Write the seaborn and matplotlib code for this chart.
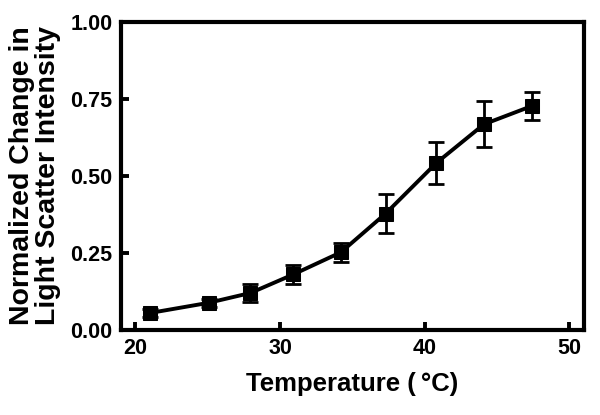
import matplotlib
matplotlib.use("Agg")
import matplotlib.pyplot as plt
import seaborn as sns
import pandas as pd

temperature = [21.0, 25.05, 27.95, 30.9, 34.2, 37.3, 40.8, 44.1, 47.4]
scatter = [0.055, 0.088, 0.12, 0.18, 0.252, 0.378, 0.542, 0.668, 0.727]
err = [0.012, 0.012, 0.03, 0.032, 0.03, 0.062, 0.067, 0.075, 0.045]
x_ticks = [20, 30, 40, 50]
y_ticks = [0.00, 0.25, 0.50, 0.75, 1.00]

df = pd.DataFrame({"T": temperature, "S": scatter})

sns.set_style("ticks", {"axes.edgecolor": "black", "text.color": "black",
                        "axes.labelcolor": "black", "xtick.color": "black",
                        "ytick.color": "black"})
plt.rcParams['font.family'] = ['Liberation Sans', 'DejaVu Sans']
plt.rcParams['font.weight'] = 'bold'

fig = plt.figure(figsize=(6.0, 4.15), dpi=100)
ax = fig.add_axes([0.2017, 0.205, 0.7713, 0.742])

sns.lineplot(data=df, x="T", y="S", ax=ax, color="black", linewidth=2.8,
             marker="s", markersize=9.5, markeredgecolor="black")
ax.errorbar(temperature, scatter, yerr=err, fmt="none", ecolor="black",
            elinewidth=2.0, capsize=6, capthick=2.0)

ax.set_xlim(19.0, 51.0)
ax.set_ylim(0, 1.0)
ax.set_xticks(x_ticks)
ax.set_yticks(y_ticks)
ax.set_yticklabels([f"{v:.2f}" for v in y_ticks])
ax.tick_params(direction="in", length=6, width=2.8, labelsize=15.5, pad=6,
               color="black", labelcolor="black")
for lab in ax.get_xticklabels() + ax.get_yticklabels():
    lab.set_fontweight("bold")
for s in ax.spines.values():
    s.set_linewidth(3.0)
    s.set_color("black")
    s.set_visible(True)

ax.set_xlabel("Temperature (\u2009°C)", fontsize=18.5, fontweight="bold",
              labelpad=9, color="black")
ax.set_ylabel("Normalized Change in\nLight Scatter Intensity", fontsize=20.5,
              fontweight="bold", labelpad=7, linespacing=1.0, color="black")

fig.savefig("out.png", dpi=100)
